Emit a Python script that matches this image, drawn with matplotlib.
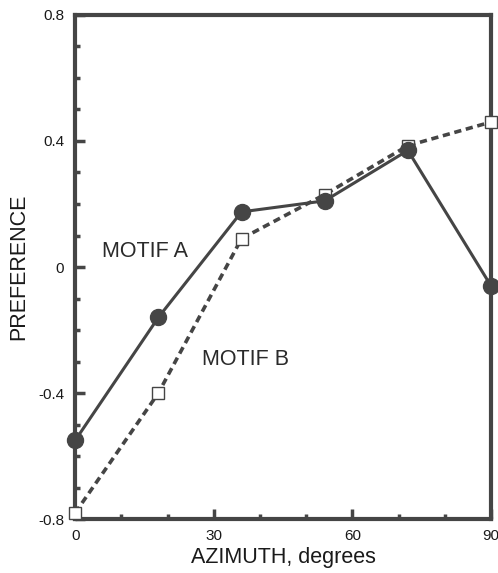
import matplotlib.pyplot as plt
from matplotlib.ticker import MultipleLocator

plt.rcParams['font.family'] = ['Liberation Sans', 'DejaVu Sans']

azimuth = [0, 18, 36, 54, 72, 90]
motif_a = [-0.55, -0.16, 0.175, 0.21, 0.37, -0.06]
motif_b = [-0.78, -0.40, 0.09, 0.23, 0.385, 0.46]
x_ticks = [0, 30, 60, 90]
x_labels = ['0', '30', '60', '90']
y_ticks = [-0.8, -0.4, 0, 0.4, 0.8]
y_labels = ['-0.8', '-0.4', '0', '0.4', '0.8']

ink = '#454545'

fig = plt.figure(figsize=(4.98, 5.73), dpi=100)
ax = fig.add_axes([0.151, 0.094, 0.835, 0.880])

ax.plot(azimuth, motif_b, color=ink, lw=2.6, ls=(0, (2.0, 1.3)),
        marker='s', ms=9, mfc='white', mec=ink, mew=1.0, clip_on=False, zorder=3)
ax.plot(azimuth, motif_a, color=ink, lw=2.2, marker='o', ms=11.5,
        mfc=ink, mec=ink, clip_on=False, zorder=4)

ax.text(5.7, 0.05, 'MOTIF A', fontsize=15.5, color='#2a2a2a', va='center')
ax.text(27.4, -0.295, 'MOTIF B', fontsize=15.5, color='#2a2a2a', va='center')

ax.set_xlim(0, 90)
ax.set_ylim(-0.8, 0.8)
ax.set_xticks(x_ticks)
ax.set_xticklabels(x_labels)
ax.set_yticks(y_ticks)
ax.set_yticklabels(y_labels)
ax.xaxis.set_minor_locator(MultipleLocator(10))
ax.yaxis.set_minor_locator(MultipleLocator(0.1))

for s in ax.spines.values():
    s.set_linewidth(3)
    s.set_color(ink)
ax.tick_params(which='both', direction='in', color=ink, labelsize=11,
               labelcolor='#1a1a1a')
ax.tick_params(axis='x', pad=7)
ax.tick_params(axis='y', pad=8)
ax.tick_params(which='major', length=7, width=2.5)
ax.tick_params(which='minor', length=3.5, width=2.5)

ax.set_xlabel('AZIMUTH, degrees', fontsize=15.5, color='#1a1a1a', labelpad=3)
ax.set_ylabel('PREFERENCE', fontsize=15.5, color='#1a1a1a', labelpad=6)

fig.savefig('out.png', dpi=100)
